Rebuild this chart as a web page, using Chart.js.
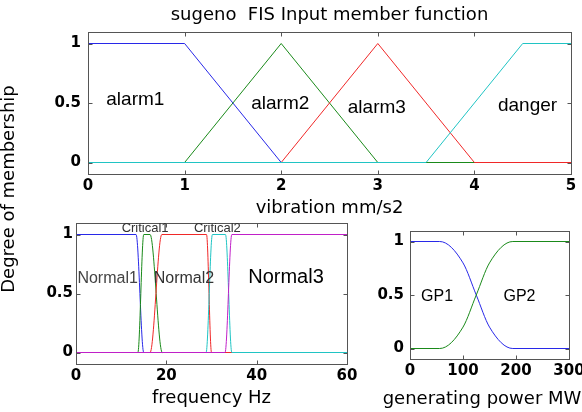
<!DOCTYPE html>
<html>
<head>
<meta charset="utf-8">
<title>sugeno FIS Input member function</title>
<script src="https://cdn.jsdelivr.net/npm/chart.js@4.4.0/dist/chart.umd.min.js"></script>
<style>
  html, body { margin: 0; padding: 0; background: #fff; }
  #fig { position: relative; width: 582px; height: 412px; overflow: hidden; }
  #fig canvas { position: absolute; left: 0; top: 0; }
</style>
</head>
<body>
<div id="fig">
  <canvas id="vibChart" width="582" height="412"></canvas>
  <canvas id="freqChart" width="582" height="412"></canvas>
  <canvas id="powerChart" width="582" height="412"></canvas>
</div>
<script>
// ─── Vibration MFs (mm/s2) ───────────────────────────────────────
const vibTicks   = [0, 1, 2, 3, 4, 5];
const alarm1X    = [0, 1, 2, 5];
const alarm1Y    = [1, 1, 0, 0];
const alarm2X    = [0, 1, 2, 3, 5];
const alarm2Y    = [0, 0, 1, 0, 0];
const alarm3X    = [0, 2, 3, 4, 5];
const alarm3Y    = [0, 0, 1, 0, 0];
const dangerX    = [0, 3.5, 4.5, 5];
const dangerY    = [0, 0, 1, 1];
const vibNames   = ['alarm1', 'alarm2', 'alarm3', 'danger'];

// ─── Frequency MFs (Hz) ──────────────────────────────────────────
const freqTicks  = [0, 20, 40, 60];
const normal1X   = [0, 13.3, 15.0, 60];
const normal1Y   = [1, 1, 0, 0];
const crit1X     = [0, 13.7, 15.0, 16.4, 19.1, 60];
const crit1Y     = [0, 0, 1, 1, 0, 0];
const normal2X   = [0, 16.4, 19.0, 28.9, 30.0, 60];
const normal2Y   = [0, 0, 1, 1, 0, 0];
const crit2X     = [0, 28.8, 30.2, 33.1, 34.5, 60];
const crit2Y     = [0, 0, 1, 1, 0, 0];
const normal3X   = [0, 33.0, 34.5, 60];
const normal3Y   = [0, 0, 1, 1];
const freqNames  = ['Normal1', 'Critical1', 'Normal2', 'Critical2', 'Normal3'];

// ─── Generating power MFs (MW) ───────────────────────────────────
const powerTicks = [0, 100, 200, 300];
const gp1X       = [0, 56, 100, 125, 150, 194, 300];
const gp1Y       = [1, 1, 0.8, 0.5, 0.2, 0, 0];
const gp2X       = [0, 56, 100, 125, 150, 194, 300];
const gp2Y       = [0, 0, 0.2, 0.5, 0.8, 1, 1];
const powerNames = ['GP1', 'GP2'];

const degreeTicks = [0, 0.5, 1];

// MATLAB-ish line colours
const mfColors = ['#2828e8', '#1a8a1a', '#f02828', '#20c4c4', '#c020c8'];

Chart.defaults.font.family = "'DejaVu Sans', sans-serif";
Chart.defaults.color = '#000';

const TICK_FONT  = { family: "'DejaVu Sans'", size: 15, weight: 'bold' };
const LABEL_FONT = { family: "'DejaVu Sans'", size: 18, weight: 'normal' };

// text placed inside the axes (data coords), per canvas
const inAxesText = {
  vibChart: [
    { text: vibNames[0], at: [0.49, 0.53], size: 19 },
    { text: vibNames[1], at: [1.99, 0.49], size: 19 },
    { text: vibNames[2], at: [2.99, 0.46], size: 19 },
    { text: vibNames[3], at: [4.55, 0.48], size: 19 }
  ],
  freqChart: [
    { text: 'Critical1', at: [15.3, 1.055], size: 13, color: '#333' },
    { text: 'Critical2', at: [31.3, 1.055], size: 13, color: '#333' },
    { text: 'Normal1',   at: [7.0, 0.63],   size: 16, color: '#444' },
    { text: 'Normal2',   at: [23.9, 0.625], size: 16, color: '#333' },
    { text: 'Normal3',   at: [46.5, 0.635], size: 20 }
  ],
  powerChart: [
    { text: powerNames[0], at: [51, 0.485], size: 16 },
    { text: powerNames[1], at: [206.6, 0.485], size: 16 }
  ]
};

// figure-level text (pixel coords)
const figText = {
  vibChart:   [{ text: 'Degree of membership', px: [9, 189], rotate: true }],
  powerChart: [{ text: 'generating power MW', px: [482, 399] }]
};

const mfText = {
  id: 'mfText',
  afterDatasetsDraw(chart) {
    const { ctx, scales: { x, y } } = chart;
    const id = chart.canvas.id;
    ctx.save();
    ctx.textAlign = 'center';
    ctx.textBaseline = 'middle';
    (inAxesText[id] || []).forEach(t => {
      ctx.font = `${t.size}px 'Liberation Sans', Arial, sans-serif`;
      ctx.fillStyle = t.color || '#000';
      ctx.fillText(t.text, x.getPixelForValue(t.at[0]), y.getPixelForValue(t.at[1]));
    });
    ctx.font = "18px 'DejaVu Sans', sans-serif";
    ctx.fillStyle = '#000';
    (figText[id] || []).forEach(t => {
      ctx.save();
      ctx.translate(t.px[0], t.px[1]);
      if (t.rotate) ctx.rotate(-Math.PI / 2);
      ctx.fillText(t.text, 0, 0);
      ctx.restore();
    });
    ctx.restore();
  }
};

// MATLAB style box with inward tick marks
const axesBox = {
  id: 'axesBox',
  afterDatasetsDraw(chart) {
    const { ctx, chartArea: a, scales: { x, y } } = chart;
    const l = Math.round(a.left) + 0.5, r = Math.round(a.right) + 0.5;
    const t = Math.round(a.top) + 0.5, b = Math.round(a.bottom) + 0.5;
    ctx.save();
    ctx.strokeStyle = '#555';
    ctx.lineWidth = 1;
    ctx.strokeRect(l, t, r - l, b - t);
    ctx.beginPath();
    x.ticks.forEach(tk => {
      const px = Math.round(x.getPixelForValue(tk.value)) + 0.5;
      ctx.moveTo(px, b); ctx.lineTo(px, b - 4);
      ctx.moveTo(px, t); ctx.lineTo(px, t + 4);
    });
    y.ticks.forEach(tk => {
      const py = Math.round(y.getPixelForValue(tk.value)) + 0.5;
      ctx.moveTo(l, py); ctx.lineTo(l + 4, py);
      ctx.moveTo(r, py); ctx.lineTo(r - 4, py);
    });
    ctx.stroke();
    ctx.restore();
  }
};

function series(xs, ys) {
  return xs.map((x, i) => ({ x, y: ys[i] }));
}

function makeDatasets(list, smooth) {
  return list.map((s, i) => ({
    label: s.name,
    data: series(s.x, s.y),
    borderColor: s.color,
    borderWidth: 1,
    pointRadius: 0,
    fill: false,
    tension: 0,
    cubicInterpolationMode: smooth ? 'monotone' : 'default',
    order: list.length - i   // first MF at the bottom, like plotmf
  }));
}

function makeChart(canvasId, c) {
  return new Chart(document.getElementById(canvasId), {
    type: 'line',
    data: { datasets: c.datasets },
    options: {
      responsive: false,
      animation: false,
      events: [],
      layout: { padding: c.padding },
      plugins: {
        legend: { display: false },
        tooltip: { enabled: false },
        title: c.title ? {
          display: true,
          text: c.title,
          fullSize: false,
          font: LABEL_FONT,
          color: '#000',
          padding: { top: 5, bottom: 5 }
        } : { display: false }
      },
      scales: {
        x: {
          type: 'linear',
          min: c.xTicks[0],
          max: c.xTicks[c.xTicks.length - 1],
          grid: { display: false, drawTicks: false, tickLength: 0 },
          border: { display: false },
          ticks: {
            font: TICK_FONT, color: '#000', padding: c.xTickPad,
            maxRotation: 0, autoSkip: false, callback: v => String(v)
          },
          title: { display: !!c.xTitle, text: c.xTitle || '', font: LABEL_FONT, color: '#000', padding: 0 },
          afterBuildTicks: s => { s.ticks = c.xTicks.map(v => ({ value: v })); },
          afterFit: s => { s.height = c.xAxisH; s.paddingLeft = 0; s.paddingRight = 0; }
        },
        y: {
          type: 'linear',
          min: -0.1,
          max: 1.1,
          grid: { display: false, drawTicks: false, tickLength: 0 },
          border: { display: false },
          ticks: {
            font: TICK_FONT, color: '#000', padding: c.yTickPad,
            autoSkip: false, callback: v => String(v)
          },
          afterBuildTicks: s => { s.ticks = degreeTicks.map(v => ({ value: v })); },
          afterFit: s => { s.width = c.yAxisW; s.paddingTop = 0; s.paddingBottom = 0; }
        }
      }
    },
    plugins: [axesBox, mfText]
  });
}

// ─── Vibration (top) ─────────────────────────────────────────────
makeChart('vibChart', {
  datasets: makeDatasets([
    { name: vibNames[0], x: alarm1X, y: alarm1Y, color: mfColors[0] },
    { name: vibNames[1], x: alarm2X, y: alarm2Y, color: mfColors[1] },
    { name: vibNames[2], x: alarm3X, y: alarm3Y, color: mfColors[2] },
    { name: vibNames[3], x: dangerX, y: dangerY, color: mfColors[3] }
  ], false),
  title: 'sugeno  FIS Input member function',
  xTitle: 'vibration mm/s2',
  xTicks: vibTicks,
  padding: { left: 0, right: 11, top: 0, bottom: 193.2 },
  xAxisH: 44.4,
  yAxisW: 88,
  xTickPad: 3.1,
  yTickPad: 7
});

// ─── Frequency (bottom left) ─────────────────────────────────────
makeChart('freqChart', {
  datasets: makeDatasets([
    { name: freqNames[0], x: normal1X, y: normal1Y, color: mfColors[0] },
    { name: freqNames[1], x: crit1X,   y: crit1Y,   color: mfColors[1] },
    { name: freqNames[2], x: normal2X, y: normal2Y, color: mfColors[2] },
    { name: freqNames[3], x: crit2X,   y: crit2Y,   color: mfColors[3] },
    { name: freqNames[4], x: normal3X, y: normal3Y, color: mfColors[4] }
  ], true),
  xTitle: 'frequency Hz',
  xTicks: freqTicks,
  padding: { left: 0, right: 235, top: 222.7, bottom: 3.2 },
  xAxisH: 44.5,
  yAxisW: 76,
  xTickPad: 2.7,
  yTickPad: 3
});

// ─── Generating power (bottom right) ─────────────────────────────
makeChart('powerChart', {
  datasets: makeDatasets([
    { name: powerNames[0], x: gp1X, y: gp1Y, color: mfColors[0] },
    { name: powerNames[1], x: gp2X, y: gp2Y, color: mfColors[1] }
  ], true),
  xTitle: null,   // drawn by mfText, it is wider than the axes
  xTicks: powerTicks,
  padding: { left: 0, right: 13, top: 230.8, bottom: 2.8 },
  xAxisH: 50,
  yAxisW: 410,
  xTickPad: 2.8,
  yTickPad: 6
});
</script>
</body>
</html>
